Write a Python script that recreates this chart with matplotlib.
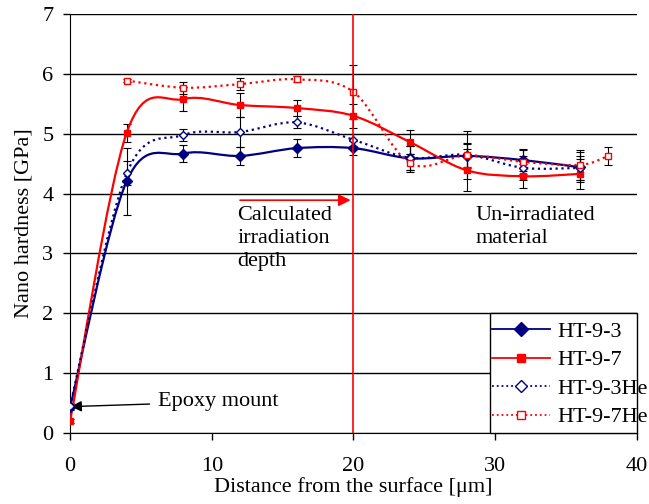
import matplotlib.pyplot as plt
import numpy as np
from matplotlib.path import Path
from matplotlib.patches import PathPatch, Rectangle

plt.rcParams['font.family'] = ['Liberation Serif', 'DejaVu Serif']

# ----------------------------------------------------
# Data
# ----------------------------------------------------
x_main = [0, 4, 8, 12, 16, 20, 24, 28, 32, 36]

ht93 = [0.43, 4.21, 4.67, 4.63, 4.76, 4.76, 4.59, 4.63, 4.56, 4.44]
ht93_err = [0.05, 0.56, 0.14, 0.15, 0.15, 0.12, 0.2, 0.2, 0.18, 0.25]

ht97 = [0.20, 5.02, 5.58, 5.48, 5.43, 5.30, 4.86, 4.39, 4.29, 4.33]
ht97_err = [0.03, 0.15, 0.2, 0.2, 0.14, 0.2, 0.2, 0.35, 0.2, 0.25]

ht93he = [0.45, 4.34, 4.98, 5.03, 5.19, 4.90, 4.60, 4.65, 4.43, 4.43]
ht93he_err = [0.05, 0.2, 0.1, 0.25, 0.1, 0.1, 0.2, 0.2, 0.2, 0.2]

x_he7 = [4, 8, 12, 16, 20, 24, 28, 32, 36, 38]
ht97he = [5.89, 5.77, 5.83, 5.91, 5.70, 4.51, 4.64, 4.53, 4.48, 4.63]
ht97he_err = [0.03, 0.1, 0.1, 0.05, 0.45, 0.15, 0.4, 0.2, 0.25, 0.15]


def smooth_path(xs, ys):
    # Excel-style smoothed line as cubic Bezier segments
    p = np.column_stack([xs, ys]).astype(float)
    verts = [p[0]]
    codes = [Path.MOVETO]
    n = len(p)
    for i in range(n - 1):
        p0 = p[i - 1] if i > 0 else p[i]
        p3 = p[i + 2] if i + 2 < n else p[i + 1]
        c1 = p[i] + (p[i + 1] - p0) / 6.0
        c2 = p[i + 1] - (p3 - p[i]) / 6.0
        verts += [c1, c2, p[i + 1]]
        codes += [Path.CURVE4] * 3
    return Path(verts, codes)


fig = plt.figure(figsize=(6.49, 5.04), dpi=100)
ax = fig.add_axes([0.108, 0.141, 0.873, 0.831])

series = [
    (x_main, ht93, ht93_err, '#000080', '-', 'D', True, 'HT-9-3', 5),
    (x_main, ht97, ht97_err, '#FF0000', '-', 's', True, 'HT-9-7', 4),
    (x_main, ht93he, ht93he_err, '#000080', ':', 'D', False, 'HT-9-3He', 4),
    (x_he7, ht97he, ht97he_err, '#FF0000', ':', 's', False, 'HT-9-7He', 4),
]

for xs, ys, err, col, ls, mk, filled, lab, ms in series:
    ax.errorbar(xs, ys, yerr=err, fmt='none', ecolor='black', elinewidth=0.8,
                capsize=3, capthick=0.8, zorder=2)
    patch = PathPatch(smooth_path(xs, ys), facecolor='none', edgecolor=col,
                      linestyle=ls, linewidth=1.6, zorder=3)
    ax.add_patch(patch)
    ax.plot(xs, ys, linestyle='none', marker=mk, markersize=ms, color=col,
            markerfacecolor=col if filled else 'white',
            markeredgecolor=col, zorder=4)
    ax.plot([], [], linestyle=ls, marker=mk, markersize=ms + 2, color=col,
            markerfacecolor=col if filled else 'white',
            markeredgecolor=col, linewidth=1.3, label=lab)

# irradiation depth marker
ax.axvline(20, color='#FF0000', linewidth=1.2, zorder=5)
ax.annotate('', xy=(20, 3.89), xytext=(11.8, 3.89),
            arrowprops=dict(arrowstyle='-|>', color='#FF0000', lw=1.2,
                            mutation_scale=18))
ax.text(11.8, 3.80, 'Calculated\nirradiation\ndepth', fontsize=16,
        va='top', ha='left', linespacing=1.3)
ax.text(28.6, 3.80, 'Un-irradiated\nmaterial', fontsize=16,
        va='top', ha='left', linespacing=1.3)
ax.annotate('Epoxy mount', xy=(0.05, 0.44), xytext=(6.2, 0.52),
            fontsize=16, va='center', ha='left',
            arrowprops=dict(arrowstyle='-|>', color='black', lw=1.0,
                            mutation_scale=16, shrinkB=0, shrinkA=4))

ax.set_xlim(0, 40)
ax.set_ylim(0, 7)
ax.set_xticks([0, 10, 20, 30, 40])
ax.set_yticks(range(8))
ax.yaxis.grid(True, color='black', linewidth=1.0)
ax.set_axisbelow(True)
ax.spines['right'].set_visible(False)
ax.spines['top'].set_visible(False)
ax.tick_params(labelsize=16, direction='out', length=5, width=1)
ax.tick_params(axis='x', pad=12)
ax.tick_params(axis='y', pad=7)
ax.set_xlabel('Distance from the surface [\u03bcm]', fontsize=16, labelpad=1)
ax.set_ylabel('Nano hardness [GPa]', fontsize=16, labelpad=6)

# legend: text runs past the frame in the reference, so the frame is drawn apart
frame = Rectangle((0.741, 0.0), 0.259, 0.286, transform=ax.transAxes,
                  facecolor='white', edgecolor='black', linewidth=1.0,
                  zorder=6, clip_on=False)
ax.add_patch(frame)
leg = ax.legend(loc='center left', bbox_to_anchor=(0.745, 0.14), fontsize=16,
                frameon=False, borderaxespad=0, borderpad=0,
                handlelength=2.6, handletextpad=0.35, labelspacing=0.36)
leg.set_zorder(7)

fig.savefig('out.png', dpi=100)
